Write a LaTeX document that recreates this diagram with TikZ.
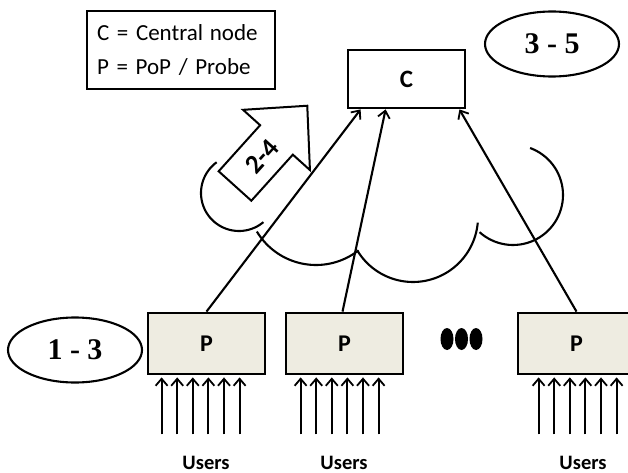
\documentclass[tikz,border=0pt]{standalone}
\usepackage{fontspec}
\setmainfont{Carlito}
\newfontfamily\numfont{Liberation Serif}
\usetikzlibrary{arrows.meta,shapes.geometric}

\definecolor{probefill}{RGB}{238,236,225}

\tikzset{
  thin line/.style={line width=2.1pt},
  flow/.style={thin line, -{Straight Barb[length=7pt,width=12pt,line width=1.8pt]}},
  probe/.style={draw, line width=2.8pt, fill=probefill, minimum width=117, minimum height=61,
                font=\fontsize{24}{28}\selectfont\bfseries},
  rangelbl/.style={draw, ellipse, thin line, minimum width=134, minimum height=65,
                font=\fontsize{30}{32}\selectfont\numfont\bfseries},
  userlbl/.style={anchor=base, font=\fontsize{20.5}{24}\selectfont\bfseries},
  cloudarc/.style={thin line, smooth, samples=50}
}

\begin{document}
\begin{tikzpicture}[x=1pt,y=-1pt]
\useasboundingbox (0,0) rectangle (628,473);
\clip (0,0) rectangle (628,473);

% legend
\node[draw, line width=2.4pt, minimum width=188, minimum height=78, text width=168, align=left,
      font=\fontsize{23}{33.5}\selectfont] (legend) at (181,50)
      {C = Central\kern-1pt\ node\\P = PoP / Probe};

% central node
\node[draw, line width=2.8pt, minimum width=117, minimum height=58,
      font=\fontsize{25}{28}\selectfont\bfseries] (C) at (406.5,79) {C};

% range labels
\node[rangelbl] (r35) at (552,44) {3 - 5};
\node[rangelbl] (r13) at (75,350) {1 - 3};

% probes
\node[probe] (P1) at (206.5,343.5) {P};
\node[probe] (P2) at (344.5,343.5) {P};
\node[probe] (P3) at (576.5,343.5) {P};

% more probes
\fill (447,339) ellipse [x radius=6.5, y radius=11];
\fill (461.5,339) ellipse [x radius=6.5, y radius=11];
\fill (476,339) ellipse [x radius=6.5, y radius=11];

% network cloud
\draw[cloudarc] plot[domain=234:50] ({239+38*cos(\x)},{193+38*sin(\x)});
\draw[cloudarc] plot[domain=149:52] ({316+69*cos(\x)},{196+69*sin(\x)});
\draw[cloudarc] plot[domain=149:5] ({413+65*cos(\x)},{217+65*sin(\x)});
\draw[cloudarc] plot[domain=132:-70] ({513+50*cos(\x)},{195+50*sin(\x)});

% probes report to the central node
\draw[flow] (P1.north) -- ([xshift=14pt]C.south west);
\draw[flow] ([xshift=-2pt]P2.north) -- ([xshift=39pt]C.south west);
\draw[flow] (P3.north) -- ([xshift=-7pt]C.south east);

% users feeding each probe
\foreach \p/\s in {P1/15, P2/16, P3/22}{
  \foreach \k in {0,...,5}{
    \draw[flow] ([xshift={\s+15.6*\k}, yshift=-59pt]\p.south west)
             -- ([xshift={\s+15.6*\k}, yshift=-2pt]\p.south west);
  }
}
\node[userlbl] (u1) at (206,469) {Users};
\node[userlbl] (u2) at (344,469) {Users};
\node[userlbl] (u3) at (583,469) {Users};

% block arrow 2-4
\begin{scope}[shift={(235,186)}, rotate=48]
  \draw[line width=2pt, fill=white, line join=miter]
    (0,-22) -- (62,-22) -- (62,-45) -- (108,0) -- (62,45) -- (62,22) -- (0,22) -- cycle;
  \node[transform shape, font=\fontsize{27}{30}\selectfont\bfseries] (step24) at (40,0) {2-4};
\end{scope}
\end{tikzpicture}
\end{document}
